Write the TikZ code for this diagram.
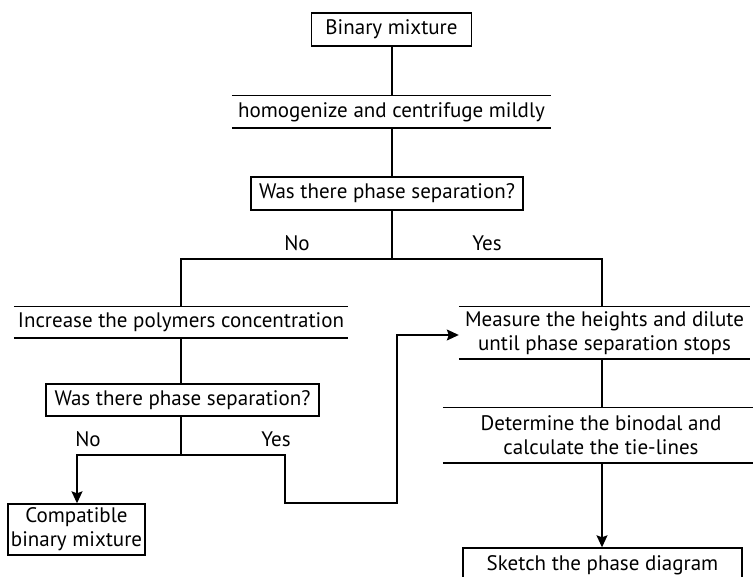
\documentclass[tikz,border=0pt]{standalone}
\usepackage{fontspec}
\setmainfont{PT Sans}
\usetikzlibrary{arrows.meta}

\tikzset{
  box/.style={draw, line width=1.4pt, inner sep=0pt, align=center, font=\fontsize{21}{24}\selectfont},
  bar/.style={inner sep=0pt, align=center, font=\fontsize{21}{24}\selectfont,
    append after command={
      (\tikzlastnode.north west) edge[line width=1.4pt] (\tikzlastnode.north east)
      (\tikzlastnode.south west) edge[line width=1.4pt] (\tikzlastnode.south east)}},
  lbl/.style={font=\fontsize{21}{24}\selectfont},
  link/.style={line width=1.4pt},
  tip/.style={line width=1.4pt, -{Stealth[length=12pt,width=11pt,inset=2pt]}}
}

\begin{document}
\begin{tikzpicture}[x=1pt,y=-1pt]
    \clip (0,0) rectangle (753,577);
    \fill [white] (0,0) rectangle (753,577);

    \node [box, minimum width=160, minimum height=33] (bm) at (391.5,29.5) {Binary mixture};
    \node [bar, minimum width=319, minimum height=32] (hom) at (391.5,112) {homogenize and centrifuge mildly};
    \node [box, minimum width=272, minimum height=33] (q1) at (387,193.5) {Was there phase separation?};
    \node [bar, minimum width=334, minimum height=31] (inc) at (181,322.5) {Increase the polymers concentration};
    \node [box, minimum width=273, minimum height=32] (q2) at (182.5,400) {Was there phase separation?};
    \node [box, minimum width=137, minimum height=51] (comp) at (76.5,529.5) {Compatible\\binary mixture};
    \node [bar, minimum width=291, minimum height=52] (meas) at (604.5,333) {Measure the heights and dilute\\until phase separation stops};
    \node [bar, minimum width=316, minimum height=55] (det) at (601,435.5) {Determine the binodal and\\calculate the tie-lines};
    \node [box, minimum width=279, minimum height=50] (sk) at (602.5,573) {};
    \node [lbl] (sktext) at (602.5,565) {Sketch the phase diagram};

    \node [lbl] (no1) at (297,243) {No};
    \node [lbl] (yes1) at (487,243) {Yes};
    \node [lbl] (no2) at (88,439) {No};
    \node [lbl] (yes2) at (276,439) {Yes};

    \coordinate (s1) at (392,259);
    \coordinate (r1) at (602,259);
    \coordinate (s2) at (181,455);
    \coordinate (l2) at (77,455);
    \coordinate (y2) at (285,455);
    \coordinate (y3) at (285,503);
    \coordinate (y4) at (397,503);
    \coordinate (y5) at (397,335);

    \draw [link] (bm.south -| s1) -- (hom.north -| s1);
    \draw [link] (hom.south -| s1) -- (s1 |- q1.north);
    \draw [link] (s1 |- q1.south) -- (s1);
    \draw [link] (inc.north) |- (r1) -- (r1 |- meas.north);
    \draw [link] (inc.south) -- (q2.north -| inc.south);
    \draw [link] (q2.south -| s2) -- (s2);
    \draw [tip] (y2) -- (l2) -- (l2 |- comp.north);
    \draw [tip] (s2) -- (y2) -- (y3) -- (y4) -- (y5) -- (y5 -| meas.west);
    \draw [link] (r1 |- meas.south) -- (r1 |- det.north);
    \draw [tip] (r1 |- det.south) -- (r1 |- sk.north);
  \end{tikzpicture}
\end{document}
